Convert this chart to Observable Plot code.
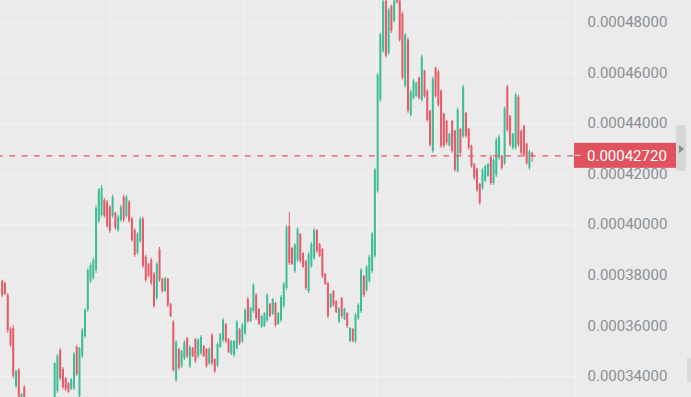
<!DOCTYPE html>
<html><head><meta charset="utf-8">
<script src="https://cdn.jsdelivr.net/npm/d3@7"></script>
<script src="https://cdn.jsdelivr.net/npm/@observablehq/plot@0.6"></script>
<style>
html,body{margin:0;padding:0;background:#ebebeb;overflow:hidden}
#wrap{position:relative;width:691px;height:397px}
#wrap svg{display:block}
.handle{position:absolute;left:676px;top:125px;width:10px;height:46px;background:#d7d7d7;border-radius:2px}
.handle:after{content:"";position:absolute;left:3px;top:20px;border-left:5px solid #8a8a8a;border-top:4px solid transparent;border-bottom:4px solid transparent}
.blk{position:absolute;left:687px;top:358px;width:4px;height:24px;background:#dadada}
</style></head><body><div id="wrap"><div class="handle"></div><div class="blk"></div></div>
<script>
const UNIT = 1e-6; // values below are in millionths
const open=[
377.6,376.8,372.0,358.6,359.0,336.0,342.4,329.3,335.6,326.5,
321.0,318.0,321.0,319.5,314.5,317.0,321.0,324.5,323.0,331.3,
334.1,350.3,342.8,339.2,337.2,334.8,335.2,351.5,332.1,347.9,
355.8,366.1,377.6,378.8,381.9,401.3,403.7,409.6,408.8,406.8,
403.3,404.5,397.7,401.7,410.8,403.3,408.8,402.1,397.7,388.6,
393.4,402.1,387.1,384.3,385.9,380.3,370.8,390.2,378.4,373.6,
378.4,368.5,361.4,338.4,350.7,344.0,347.1,355.0,344.0,351.1,
354.6,347.9,349.1,351.9,350.7,345.1,356.2,346.7,344.3,351.5,
354.2,360.6,354.6,348.7,348.3,351.1,358.6,353.8,357.0,370.4,
361.7,365.7,372.0,366.5,359.4,359.8,362.1,368.5,364.5,368.9,
360.6,362.1,367.7,374.8,399.3,390.6,381.5,385.9,396.2,388.6,
385.5,373.6,383.5,386.7,397.7,392.2,390.2,380.3,376.8,367.3,
373.6,369.7,361.4,370.8,362.5,364.9,353.8,358.6,353.8,362.9,
365.7,379.5,374.0,377.6,381.5,387.5,413.2,449.2,468.5,488.3,
467.7,486.3,480.4,492.0,488.3,483.2,454.7,472.9,443.2,449.9,
450.7,457.9,449.2,460.6,452.7,444.8,429.0,461.8,460.2,452.7,
443.6,440.8,431.0,440.8,436.9,421.1,437.7,434.9,444.0,437.7,
431.0,423.8,421.9,415.9,414.3,417.1,419.1,426.6,416.3,419.5,
426.2,427.0,424.2,454.3,442.8,430.2,430.2,450.3,436.9,438.9,
431.8,422.3,428.2];
const high=[
378.0,377.2,372.8,359.4,360.2,342.4,343.2,333.3,336.4,327.0,
324.0,322.0,325.0,321.0,318.0,322.0,326.0,328.0,331.0,345.5,
348.7,351.1,343.5,339.6,337.6,339.2,349.5,352.3,351.5,359.0,
366.9,382.7,384.7,386.7,407.6,414.3,415.5,410.4,409.6,407.6,
411.6,404.9,403.7,407.6,411.6,411.6,409.6,402.9,398.5,396.9,
402.9,402.9,387.9,384.7,386.7,381.1,385.1,391.0,378.8,379.2,
378.8,368.9,362.1,354.2,351.1,350.3,354.2,355.4,352.3,351.5,
355.0,355.0,356.2,352.3,351.1,351.5,357.0,347.1,353.4,357.0,
362.9,361.0,355.0,354.2,354.2,362.1,359.0,361.0,366.9,371.2,
367.3,376.8,372.8,366.9,364.1,365.3,372.8,368.9,370.8,369.3,
365.3,372.0,377.2,399.7,404.9,391.0,392.6,398.9,396.5,389.0,
385.9,389.0,393.0,398.5,398.1,392.6,390.6,380.7,377.2,372.8,
374.0,370.0,367.3,371.2,366.9,365.3,359.4,359.0,364.9,368.9,
382.7,379.9,383.9,387.9,396.9,422.3,459.8,475.6,490.7,489.9,
485.5,486.7,490.3,493.4,489.9,484.0,475.6,473.7,453.1,457.5,
456.3,458.2,467.0,461.0,453.1,445.2,458.2,462.2,461.0,453.1,
444.0,441.2,436.1,441.2,437.3,446.0,438.1,455.1,444.4,438.1,
431.4,424.2,422.3,416.3,422.3,423.4,424.2,427.4,426.2,434.1,
435.3,427.4,446.4,455.1,443.2,436.1,451.9,451.1,437.3,439.3,
432.2,429.4,428.6];
const low=[
371.2,372.0,357.0,351.5,339.2,335.2,329.7,328.5,325.7,320.0,
317.0,314.0,318.0,313.0,311.0,315.0,319.0,321.0,322.0,330.5,
333.3,338.4,334.8,334.1,333.3,334.5,334.5,340.0,330.5,347.1,
355.0,365.3,376.8,378.0,380.7,400.5,402.9,402.5,398.5,396.5,
402.5,397.7,396.9,400.9,400.9,402.5,400.5,393.0,387.1,387.9,
392.6,382.7,377.2,379.2,376.0,366.9,370.0,377.2,372.8,373.2,
367.3,363.3,341.6,337.6,342.4,343.2,346.3,347.1,343.2,347.5,
345.1,347.1,348.3,347.5,343.2,344.3,344.3,341.2,343.5,351.1,
353.4,353.0,349.1,348.3,347.5,350.3,352.3,353.0,356.2,361.0,
361.4,364.9,362.1,360.2,359.0,359.4,361.4,363.3,364.1,359.4,
360.2,361.4,366.9,374.0,383.9,383.9,380.7,385.1,384.7,382.7,
374.0,372.8,382.7,385.9,388.6,387.1,378.8,376.0,362.9,366.9,
367.3,364.9,361.0,362.9,362.1,359.0,353.4,353.4,353.0,362.1,
364.9,371.2,373.2,376.8,380.7,386.7,412.4,448.4,467.7,465.8,
467.0,475.6,479.6,487.1,472.1,457.1,453.9,444.0,442.4,449.2,
450.3,449.2,448.4,449.9,440.5,430.6,428.2,449.9,446.4,430.2,
430.2,431.4,430.6,428.2,420.7,420.3,427.4,434.1,434.1,429.4,
422.3,417.5,412.8,407.6,413.6,416.7,418.7,415.5,415.5,418.7,
425.4,421.5,423.4,436.5,430.6,429.4,429.4,430.6,427.4,426.6,
423.4,421.5,424.6];
const close=[
372.0,372.4,358.2,352.3,340.0,342.0,330.9,332.9,326.5,321.0,
318.0,321.0,319.5,314.5,317.0,321.0,324.5,323.0,330.0,345.1,
347.9,339.2,335.6,334.8,333.7,338.8,348.7,340.8,351.1,358.2,
366.1,381.9,383.9,385.9,406.4,413.6,414.3,403.3,399.3,397.3,
410.8,398.5,402.9,406.8,401.7,410.8,401.3,393.8,387.9,396.2,
402.1,383.5,378.0,379.5,376.8,367.7,384.3,378.0,373.6,378.8,
368.1,363.7,342.4,353.4,343.2,349.9,353.4,347.9,351.5,347.9,
345.9,354.2,355.4,347.9,344.0,350.7,345.1,342.0,352.7,356.6,
362.1,353.8,349.5,353.8,353.8,361.4,353.0,360.2,366.1,361.7,
366.9,376.0,362.9,360.6,363.7,364.9,372.0,363.7,370.4,360.2,
364.9,371.2,376.4,398.9,384.7,384.3,391.8,398.1,385.5,383.1,
374.8,388.2,392.2,397.7,389.4,387.5,379.5,376.4,363.7,372.4,
368.1,365.3,366.9,363.7,366.5,359.8,359.0,353.8,364.1,368.1,
381.9,372.0,383.1,387.1,396.2,421.5,459.0,474.9,487.9,466.6,
484.7,476.4,488.3,487.9,472.9,457.9,474.9,444.8,452.3,456.7,
455.9,449.9,466.2,450.7,441.2,431.4,457.5,450.7,447.2,431.0,
431.0,432.2,435.7,429.0,421.5,445.2,428.2,454.3,434.9,430.2,
423.0,418.3,413.6,408.4,421.5,423.0,423.8,416.3,425.4,433.3,
434.5,422.3,445.6,437.3,431.4,435.7,451.1,431.4,428.2,427.4,
424.2,428.6,427.2];
const lastPrice = 427.2;
const yTicks = [340, 360, 380, 400, 420, 440, 460, 480];
const timeGrid = [39.2, 87.4, 135.6, 183.8];

const bars = open.map((o, i) => ({i, o: o*UNIT, h: high[i]*UNIT, l: low[i]*UNIT, c: close[i]*UNIT}));
const ups = bars.filter(d => d.c >= d.o), downs = bars.filter(d => d.c < d.o);
const UP = "#3dbd97", DOWN = "#e55b68", GRID = "#f2f2f2";

const chart = Plot.plot({
  width: 691, height: 397,
  marginLeft: 0, marginRight: 116, marginTop: 0, marginBottom: 0,
  style: {background: "#ebebeb", fontFamily: "Roboto, sans-serif", fontSize: "15px", color: "#8c9096"},
  x: {domain: [-0.616, 207.69], axis: null},
  y: {domain: [331.72*UNIT, 488.57*UNIT], axis: null},
  marks: [
    Plot.ruleY(yTicks.map(v => v*UNIT), {stroke: GRID}),
    Plot.ruleX(timeGrid, {stroke: GRID}),
    Plot.ruleX([207.69], {stroke: GRID}),
    Plot.ruleX(ups, {x: "i", y1: "l", y2: "h", stroke: UP, strokeWidth: 1, clip: true}),
    Plot.ruleX(ups, {x: "i", y1: "o", y2: "c", stroke: UP, strokeWidth: 2, clip: true}),
    Plot.ruleX(downs, {x: "i", y1: "l", y2: "h", stroke: DOWN, strokeWidth: 1, clip: true}),
    Plot.ruleX(downs, {x: "i", y1: "o", y2: "c", stroke: DOWN, strokeWidth: 2, clip: true}),
    Plot.ruleY([lastPrice*UNIT], {stroke: "#e05563", strokeWidth: 1.4, strokeDasharray: "5.7,6.7", strokeDashoffset: 3.1}),
    Plot.axisY({ticks: yTicks.map(v => v*UNIT), anchor: "right", tickSize: 0, tickPadding: 12,
      textAnchor: "start", tickFormat: d3.format(".8f"), fill: "#8c9096", fontSize: 15})
  ]
});
document.getElementById("wrap").prepend(chart);

const yy = chart.scale("y").apply(lastPrice*UNIT);
const g = d3.select(chart).append("g").attr("text-anchor", "start");
g.append("rect").attr("x", 574).attr("y", yy - 12.5).attr("width", 102).attr("height", 25).attr("fill", "#e0525e");
g.append("line").attr("x1", 575).attr("x2", 580.5).attr("y1", yy).attr("y2", yy).attr("stroke", "#f6d0d3").attr("stroke-width", 1.2);
g.append("text").attr("x", 587).attr("y", yy).attr("dy", "0.35em").attr("fill", "#ffffff").attr("text-anchor", "start")
  .attr("font-size", 15).attr("font-family", "Roboto, sans-serif").text(d3.format(".8f")(lastPrice*UNIT));
</script></body></html>
